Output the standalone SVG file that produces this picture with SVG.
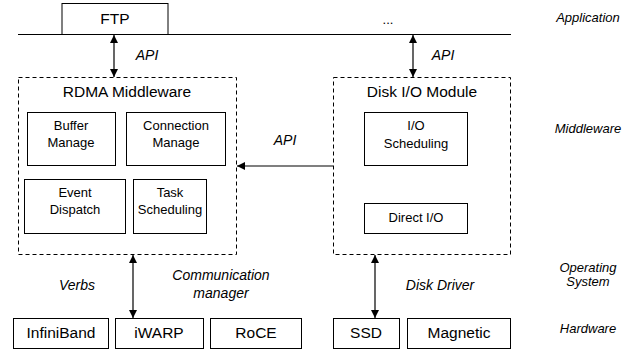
<svg xmlns="http://www.w3.org/2000/svg" width="639" height="349" viewBox="0 0 639 349">
<style>
text{font-family:"Liberation Sans",Arial,sans-serif;fill:#000;text-anchor:middle}
.box{fill:#fff;stroke:#000;stroke-width:1}
.dash{fill:none;stroke:#000;stroke-width:1;stroke-dasharray:4 3}
.big{font-size:15.5px}
.sm{font-size:13px}
.it{font-size:14px;font-style:italic}
.lay{font-size:13px;font-style:italic}
.con{stroke:#000;stroke-width:1.2;fill:none}
</style>
<defs>
<marker id="ah" viewBox="0 0 10 10" refX="10" refY="5" markerWidth="8" markerHeight="8" markerUnits="userSpaceOnUse" orient="auto-start-reverse">
<path d="M0,0 L10,5 L0,10 z" fill="#000"/>
</marker>
</defs>
<g id="app-line"><line x1="18" y1="34.5" x2="511" y2="34.5" stroke="#000" stroke-width="1"/></g>
<g id="ftp"><rect class="box" x="62" y="3.5" width="106" height="31"/><text class="big" x="115" y="24">FTP</text></g>
<g id="dots"><text class="sm" x="388" y="24">...</text></g>
<g id="rdma"><rect class="dash" x="18.5" y="77.5" width="218" height="177"/><text class="big" x="127" y="97">RDMA Middleware</text></g>
<g id="buffer"><rect class="box" x="27.5" y="112.5" width="88" height="53"/><text class="sm" x="71" y="130">Buffer</text><text class="sm" x="71" y="147">Manage</text></g>
<g id="connection"><rect class="box" x="126.5" y="112.5" width="99" height="53"/><text class="sm" x="176" y="130">Connection</text><text class="sm" x="176" y="147">Manage</text></g>
<g id="event"><rect class="box" x="24.5" y="179.5" width="101" height="54"/><text class="sm" x="75" y="197">Event</text><text class="sm" x="75" y="214">Dispatch</text></g>
<g id="task"><rect class="box" x="133.5" y="179.5" width="73" height="54"/><text class="sm" x="170" y="197">Task</text><text class="sm" x="170" y="214">Scheduling</text></g>
<g id="disk"><rect class="dash" x="333.5" y="77.5" width="177" height="177"/><text class="big" x="422" y="97">Disk I/O Module</text></g>
<g id="iosched"><rect class="box" x="364.5" y="112.5" width="103" height="53"/><text class="sm" x="416" y="130">I/O</text><text class="sm" x="416" y="148">Scheduling</text></g>
<g id="directio"><rect class="box" x="364.5" y="203.5" width="103" height="30"/><text class="sm" x="416" y="222">Direct I/O</text></g>
<g id="infiniband"><rect class="box" x="13.5" y="318.5" width="95" height="30"/><text class="big" x="61" y="338">InfiniBand</text></g>
<g id="iwarp"><rect class="box" x="115.5" y="318.5" width="88" height="30"/><text class="big" x="159" y="338">iWARP</text></g>
<g id="roce"><rect class="box" x="210.5" y="318.5" width="91" height="30"/><text class="big" x="256" y="338">RoCE</text></g>
<g id="ssd"><rect class="box" x="333.5" y="318.5" width="66" height="30"/><text class="big" x="366" y="338">SSD</text></g>
<g id="magnetic"><rect class="box" x="407.5" y="318.5" width="103" height="30"/><text class="big" x="459" y="338">Magnetic</text></g>
<g id="connectors">
<line class="con" x1="114" y1="35" x2="114" y2="77" marker-start="url(#ah)" marker-end="url(#ah)"/>
<line class="con" x1="413" y1="35" x2="413" y2="77" marker-start="url(#ah)" marker-end="url(#ah)"/>
<line class="con" x1="333" y1="166" x2="237" y2="166" marker-end="url(#ah)"/>
<line class="con" x1="133" y1="255" x2="133" y2="318" marker-start="url(#ah)" marker-end="url(#ah)"/>
<line class="con" x1="375" y1="255" x2="375" y2="318" marker-start="url(#ah)" marker-end="url(#ah)"/>
</g>
<g id="labels">
<text class="it" x="147" y="60">API</text>
<text class="it" x="443" y="60">API</text>
<text class="it" x="285" y="145">API</text>
<text class="it" x="77" y="290">Verbs</text>
<text class="it" x="221" y="280">Communication</text>
<text class="it" x="221" y="298">manager</text>
<text class="it" x="440" y="290">Disk Driver</text>
<text class="lay" x="588" y="22">Application</text>
<text class="lay" x="588" y="133">Middleware</text>
<text class="lay" x="588" y="272">Operating</text>
<text class="lay" x="588" y="286">System</text>
<text class="lay" x="588" y="333">Hardware</text>
</g>
</svg>
